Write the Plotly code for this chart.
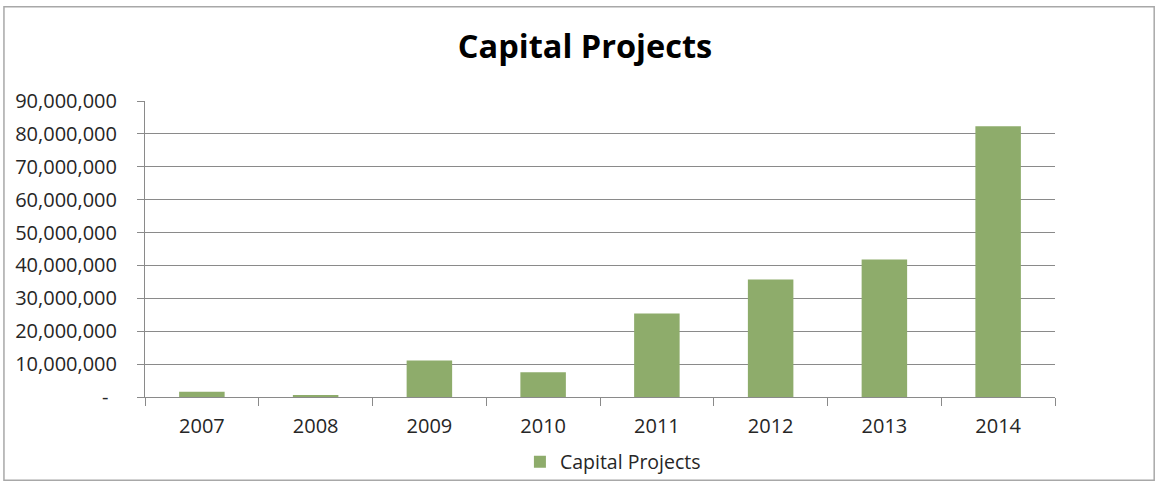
import plotly.graph_objects as go

# Annual capital project spending
years = ["2007", "2008", "2009", "2010", "2011", "2012", "2013", "2014"]
capital_projects = [1_600_000, 500_000, 11_100_000, 7_500_000,
                    25_400_000, 35_700_000, 41_800_000, 82_300_000]

y_tick_values = [0, 10_000_000, 20_000_000, 30_000_000, 40_000_000,
                 50_000_000, 60_000_000, 70_000_000, 80_000_000, 90_000_000]
y_tick_labels = ["-\u00a0\u2009"] + [f"{v:,}" for v in y_tick_values[1:]]

FONT = "Open Sans, Calibri, Carlito, sans-serif"
TEXT = "#262626"
GRID = "#8a8a8a"

fig = go.Figure(
    go.Bar(
        x=years,
        y=capital_projects,
        name="Capital Projects",
        marker=dict(color="#8eac6b", line=dict(width=0)),
        showlegend=True,
    )
)

fig.update_layout(
    width=1159,
    height=483,
    paper_bgcolor="white",
    plot_bgcolor="white",
    margin=dict(l=145, r=104, t=101, b=86, autoexpand=False),
    bargap=0.6,
    font=dict(family=FONT, color=TEXT, size=20),
    title=dict(
        text="<b>Capital Projects</b>",
        x=585 / 1159,
        xanchor="center",
        y=1 - 47 / 483,
        yanchor="middle",
        font=dict(family=FONT, size=32.5, color="#000000"),
    ),
    legend=dict(
        orientation="h",
        x=0.412,
        xanchor="left",
        y=-0.22,
        yanchor="middle",
        bgcolor="rgba(0,0,0,0)",
        font=dict(size=19.5, color=TEXT),
        itemwidth=30,
    ),
    shapes=[
        dict(
            type="rect", xref="paper", yref="paper",
            x0=-0.155, x1=1.109, y0=-0.281, y1=1.318,
            line=dict(color="#a8a8a8", width=1.5),
            fillcolor="rgba(0,0,0,0)", layer="below",
        )
    ],
)

fig.update_xaxes(
    type="category",
    automargin=False,
    showline=True,
    linecolor=GRID,
    linewidth=1,
    ticks="outside",
    tickson="boundaries",
    ticklen=8,
    tickcolor=GRID,
    ticklabelstandoff=11,
    showgrid=False,
    tickfont=dict(size=20, color=TEXT),
)

fig.update_yaxes(
    range=[0, 90_000_000],
    automargin=False,
    tickvals=y_tick_values,
    ticktext=y_tick_labels,
    showline=True,
    linecolor=GRID,
    linewidth=1,
    ticks="outside",
    ticklen=7,
    tickcolor=GRID,
    ticklabelstandoff=16,
    showgrid=True,
    gridcolor=GRID,
    gridwidth=1,
    zeroline=False,
    tickfont=dict(size=20, color=TEXT),
)

fig.write_html("out.html")
